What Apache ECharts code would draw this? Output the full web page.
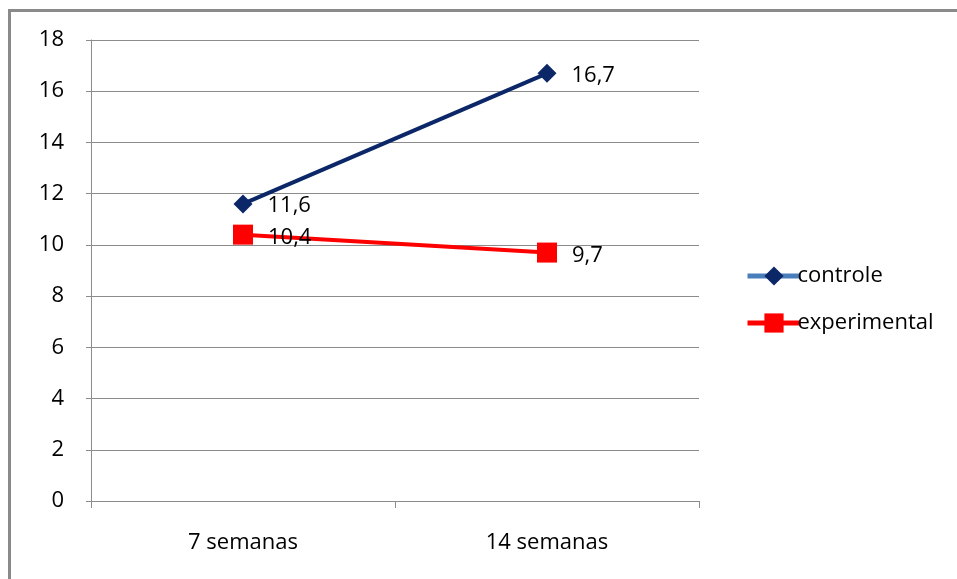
<!DOCTYPE html>
<html>
<head>
<meta charset="utf-8">
<script src="https://cdn.jsdelivr.net/npm/echarts@6/dist/echarts.min.js"></script>
<style>
html, body { margin: 0; padding: 0; background: #fff; }
#chart { width: 957px; height: 579px; }
</style>
</head>
<body>
<div id="chart"></div>
<script>
// dados
var categorias = ['7 semanas', '14 semanas'];
var controle = [11.6, 16.7];
var experimental = [10.4, 9.7];
var yTicks = { min: 0, max: 18, step: 2 };

var chart = echarts.init(document.getElementById('chart'));

var fonte = '"Open Sans", "Noto Sans", sans-serif';
var cinza = '#8c8c8c';

function rotulo(p) {
	return String(p.value).replace('.', ',');
}

var option = {
	animation: false,
	textStyle: { fontFamily: fonte },
	graphic: [
		{ type: 'rect', shape: { x: 8, y: 9, width: 960, height: 3 }, style: { fill: '#8a8a8a' } },
		{ type: 'rect', shape: { x: 8, y: 9, width: 3, height: 580 }, style: { fill: '#8a8a8a' } }
	],
	grid: { left: 91, right: 258, top: 40, bottom: 78 },
	legend: {
		orient: 'vertical',
		left: 740,
		top: 260,
		itemGap: 25,
		itemWidth: 53,
		itemHeight: 24,
		textStyle: { fontSize: 22, color: '#000', fontFamily: fonte, padding: [0, 0, 0, -8] },
		data: [
			{ name: 'controle', lineStyle: { color: '#4a7ebb', width: 5 } },
			{ name: 'experimental', lineStyle: { color: '#ff0000', width: 5 } }
		]
	},
	xAxis: {
		type: 'category',
		data: categorias,
		boundaryGap: true,
		axisLine: { lineStyle: { color: cinza } },
		axisTick: { show: true, length: 7, lineStyle: { color: cinza } },
		axisLabel: { color: '#000', fontSize: 22, margin: 31, fontFamily: fonte }
	},
	yAxis: {
		type: 'value',
		min: yTicks.min,
		max: yTicks.max,
		interval: yTicks.step,
		axisLine: { show: true, lineStyle: { color: cinza } },
		axisTick: { show: true, length: 5, lineStyle: { color: cinza } },
		axisLabel: { color: '#000', fontSize: 22, margin: 27, fontFamily: fonte },
		splitLine: { lineStyle: { color: cinza, width: 1 } }
	},
	series: [
		{
			name: 'controle',
			type: 'line',
			data: controle,
			symbol: 'diamond',
			symbolSize: 19,
			lineStyle: { color: '#0c2768', width: 4 },
			itemStyle: { color: '#0c2768' },
			label: {
				show: true, position: 'right', distance: 15, offset: [0, 2],
				fontSize: 22, color: '#000', formatter: rotulo
			}
		},
		{
			name: 'experimental',
			type: 'line',
			data: experimental,
			symbol: 'rect',
			symbolSize: 20,
			lineStyle: { color: '#ff0000', width: 4 },
			itemStyle: { color: '#ff0000' },
			label: {
				show: true, position: 'right', distance: 15, offset: [0, 3],
				fontSize: 22, color: '#000', formatter: rotulo
			}
		}
	]
};

chart.setOption(option);
</script>
</body>
</html>
